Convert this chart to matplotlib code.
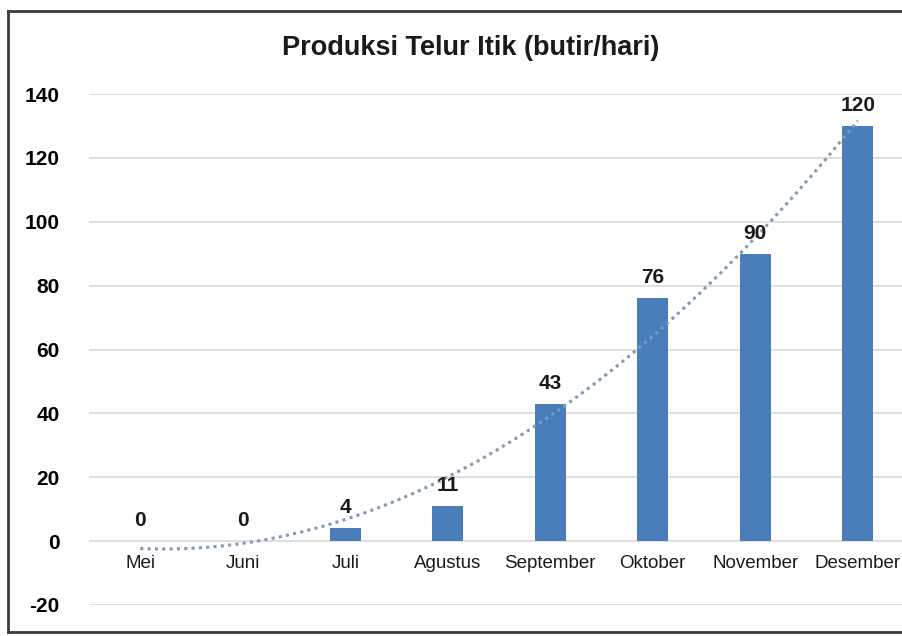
import numpy as np
import matplotlib
matplotlib.use("Agg")
import matplotlib.pyplot as plt
from matplotlib.lines import Line2D

# data
months = ["Mei", "Juni", "Juli", "Agustus", "September", "Oktober", "November", "Desember"]
eggs = [0, 0, 4, 11, 43, 76, 90, 130]
labels = ["0", "0", "4", "11", "43", "76", "90", "120"]

plt.rcParams['font.family'] = ['Liberation Sans', 'DejaVu Sans']
plt.rcParams['axes.unicode_minus'] = False

fig = plt.figure(figsize=(9.03, 6.36), dpi=100)
ax = fig.add_axes([89 / 903, 31 / 636, 820 / 903, 511 / 636])

x = np.arange(len(months))
ax.bar(x, eggs, width=0.3, color='#4a7ebb', zorder=3)

# polynomial trendline (order 2) like excel
coef = np.polyfit(x, eggs, 2)
xs = np.linspace(x[0], x[-1], 200)
ax.plot(xs, np.polyval(coef, xs), linestyle=(0, (1, 1.4)), color='#8299b6',
        linewidth=2.2, zorder=4)

for xi, v, lab in zip(x, eggs, labels):
    ax.text(xi, v + 3.5, lab, ha='center', va='bottom', fontsize=15,
            fontweight='bold', color='#1a1a1a', zorder=5)

ax.set_xlim(-0.5, len(months) - 0.5)
ax.set_ylim(-20, 140)
ax.set_yticks(range(-20, 141, 20))
ax.yaxis.grid(True, color='#d9d9d9', linewidth=1.2, zorder=0)
ax.set_axisbelow(True)
for s in ax.spines.values():
    s.set_visible(False)
ax.tick_params(axis='y', length=0, pad=21, labelsize=15)
for t in ax.get_yticklabels():
    t.set_fontweight('bold')
ax.set_xticks([])

# x labels sit just under the zero line
for xi, m in zip(x, months):
    ax.text(xi, -4.5, m, ha='center', va='top', fontsize=13.5, color='#1a1a1a')

fig.text(471 / 903, 1 - 48 / 636, "Produksi Telur Itik (butir/hari)", ha='center',
         va='center', fontsize=19.5, fontweight='bold', color='#1a1a1a')

# chart frame: top, left, bottom (right side runs off the image)
left, bottom, top = 8 / 903, 4 / 636, 1 - 11 / 636
for xd, yd in [([left, 1.05], [top, top]), ([left, left], [bottom, top]),
               ([left, 1.05], [bottom, bottom])]:
    fig.add_artist(Line2D(xd, yd, transform=fig.transFigure, color='#3a3a3a', linewidth=2))

fig.savefig("out.png", dpi=100)
